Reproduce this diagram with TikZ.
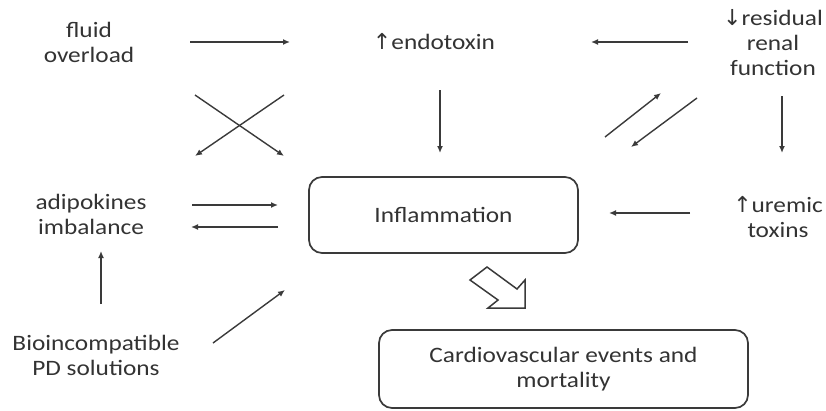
\documentclass[tikz,border=0pt]{standalone}
\usepackage{fontspec}
\setmainfont[FakeStretch=1.15]{Carlito}
\newfontfamily\arrowfont{DejaVu Sans}
\usetikzlibrary{arrows.meta}
\definecolor{txt}{HTML}{333333}
\definecolor{ln}{HTML}{3A3A3A}
\newcommand{\arrsym}[1]{{\arrowfont\fontsize{22}{25}\selectfont #1}}
\tikzset{
  lbl/.style={text=txt, align=center, inner sep=0pt, font=\fontsize{22}{25}\selectfont},
  conn/.style={draw=ln, line width=1.4pt, -{Latex[length=7pt,width=6pt]}},
  boxnode/.style={draw=ln, line width=1.7pt, rounded corners=13pt, text=txt, align=center, font=\fontsize{22}{25}\selectfont},
  hollow/.style={draw=ln, line width=1.5pt, fill=white, line join=miter}
}
\begin{document}
\begin{tikzpicture}[x=1pt,y=-1pt]
\useasboundingbox (0,0) rectangle (826,410);
% text nodes
\node[lbl] (fluid) at (89,42) {fluid\\overload};
\node[lbl] (endo) at (434,42) {\arrsym{↑}endotoxin};
\node[lbl] (resid) at (773,43) {\arrsym{↓}residual\\renal\\function};
\node[lbl] (adipo) at (91,214) {adipokines\\imbalance};
\node[lbl] (urem) at (778,217) {\arrsym{↑}uremic\\toxins};
\node[lbl] (bio) at (96,355) {Bioincompatible\\PD solutions};
% boxes
\node[boxnode, minimum width=269pt, minimum height=76pt] (infl) at (443.5,215) {Inflammation};
\node[boxnode, minimum width=369pt, minimum height=78pt] (cv) at (563.5,369) {Cardiovascular events and\\mortality};
% connector end points
\coordinate (f1) at (190,42);  \coordinate (e1) at (290,42);
\coordinate (r1) at (688,42);  \coordinate (e2) at (591,42);
\coordinate (e3) at (440,90);  \coordinate (i3) at (440,153);
\coordinate (r4) at (782,96);  \coordinate (u4) at (782,153);
\coordinate (x1s) at (195,95); \coordinate (x1e) at (284,156);
\coordinate (x2s) at (284,95); \coordinate (x2e) at (195,156);
\coordinate (d1s) at (605,137); \coordinate (d1e) at (661,93);
\coordinate (d2s) at (697,98);  \coordinate (d2e) at (631,147);
\coordinate (a1s) at (192,205); \coordinate (a1e) at (278,205);
\coordinate (a2s) at (278,227); \coordinate (a2e) at (191,227);
\coordinate (u8s) at (690,213); \coordinate (u8e) at (609,213);
\coordinate (b9s) at (101,304); \coordinate (b9e) at (101,251);
\coordinate (b10s) at (213,343); \coordinate (b10e) at (285,290);
% connectors
\draw[conn] (f1) -- (e1);
\draw[conn] (r1) -- (e2);
\draw[conn] (e3) -- (i3);
\draw[conn] (r4) -- (u4);
\draw[conn] (x1s) -- (x1e);
\draw[conn] (x2s) -- (x2e);
\draw[conn] (d1s) -- (d1e);
\draw[conn] (d2s) -- (d2e);
\draw[conn] (a1s) -- (a1e);
\draw[conn] (a2s) -- (a2e);
\draw[conn] (u8s) -- (u8e);
\draw[conn] (b9s) -- (b9e);
\draw[conn] (b10s) -- (b10e);
% hollow block arrow
\draw[hollow] (470,280) -- (487,267) -- (517,289) -- (525,280) -- (525,308) -- (488,308) -- (498,300) -- cycle;
\end{tikzpicture}
\end{document}
